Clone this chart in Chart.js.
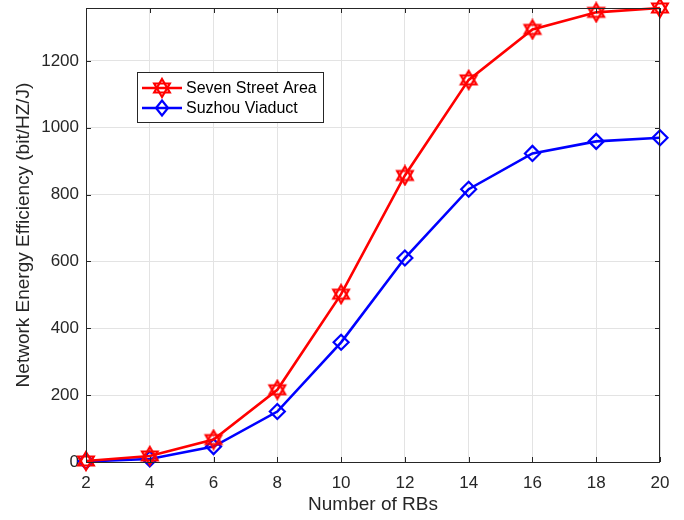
<!DOCTYPE html>
<html>
<head>
<meta charset="utf-8">
<script src="https://cdn.jsdelivr.net/npm/chart.js@4/dist/chart.umd.min.js"></script>
<style>
  html, body { margin: 0; padding: 0; background: #fff; }
  canvas { display: block; }
</style>
</head>
<body>
<canvas id="grafico" width="684" height="520"></canvas>
<script>
// datos
const rbs = [2, 4, 6, 8, 10, 12, 14, 16, 18, 20];
const sevenStreet = [3, 18, 67, 216, 502, 857, 1143, 1294, 1345, 1358];
const suzhouViaduct = [2, 9, 46, 151, 358, 610, 816, 923, 959, 970];
const yTicks = [0, 200, 400, 600, 800, 1000, 1200];

const FONT = "'Liberation Sans', Arial, Helvetica, sans-serif";
const AXIS = '#262626';

// marcador hexagrama (dos triangulos sin relleno)
function hexagram(color) {
  const c = document.createElement('canvas');
  c.width = 22; c.height = 22;
  const g = c.getContext('2d');
  g.strokeStyle = color;
  g.lineWidth = 2.2;
  const r = 9, cx = 11, cy = 11;
  [ -Math.PI / 2, Math.PI / 2 ].forEach(a0 => {
    g.beginPath();
    for (let i = 0; i < 3; i++) {
      const a = a0 + i * 2 * Math.PI / 3;
      const x = cx + r * Math.cos(a), y = cy + r * Math.sin(a);
      i === 0 ? g.moveTo(x, y) : g.lineTo(x, y);
    }
    g.closePath();
    g.stroke();
  });
  return c;
}
const starRed = hexagram('#ff0000');

// caja, ticks hacia dentro y leyenda estilo MATLAB
const estiloMatlab = {
  id: 'estiloMatlab',
  afterDraw(chart) {
    const { ctx, chartArea: a, scales } = chart;
    ctx.save();
    ctx.strokeStyle = AXIS;
    ctx.lineWidth = 1;
    ctx.strokeRect(a.left + 0.5, a.top + 0.5, a.right - a.left - 1, a.bottom - a.top);
    ctx.beginPath();
    const tl = 5;
    scales.x.ticks.forEach(t => {
      const x = Math.round(scales.x.getPixelForValue(t.value)) + 0.5;
      ctx.moveTo(x, a.bottom); ctx.lineTo(x, a.bottom - tl);
      ctx.moveTo(x, a.top); ctx.lineTo(x, a.top + tl);
    });
    scales.y.ticks.forEach(t => {
      const y = Math.round(scales.y.getPixelForValue(t.value)) + 0.5;
      ctx.moveTo(a.left, y); ctx.lineTo(a.left + tl, y);
      ctx.moveTo(a.right, y); ctx.lineTo(a.right - tl, y);
    });
    ctx.stroke();

    // leyenda
    const bx = 137, by = 72, bw = 186, bh = 50;
    ctx.fillStyle = '#fff';
    ctx.fillRect(bx, by, bw, bh);
    ctx.strokeStyle = AXIS;
    ctx.strokeRect(bx + 0.5, by + 0.5, bw, bh);
    const rows = [88, 108];
    chart.data.datasets.forEach((ds, i) => {
      const y = rows[i];
      ctx.strokeStyle = ds.borderColor;
      ctx.lineWidth = 2.5;
      ctx.beginPath();
      ctx.moveTo(142, y); ctx.lineTo(182, y);
      ctx.stroke();
      if (i === 0) {
        ctx.drawImage(starRed, 162 - 11, y - 11);
      } else {
        ctx.lineWidth = 2.2;
        ctx.beginPath();
        ctx.moveTo(162, y - 7.5); ctx.lineTo(168, y); ctx.lineTo(162, y + 7.5); ctx.lineTo(156, y);
        ctx.closePath();
        ctx.stroke();
      }
      ctx.fillStyle = '#000';
      ctx.font = '16px ' + FONT;
      ctx.textBaseline = 'middle';
      ctx.fillText(ds.label, 186, y + 1);
    });
    ctx.restore();
  }
};

const ctx = document.getElementById('grafico').getContext('2d');
new Chart(ctx, {
  type: 'line',
  data: {
    datasets: [
      {
        label: 'Seven Street Area',
        data: rbs.map((x, i) => ({ x, y: sevenStreet[i] })),
        borderColor: '#ff0000',
        borderWidth: 2.6,
        pointStyle: starRed,
        pointRadius: 10,
        clip: false,
        tension: 0
      },
      {
        label: 'Suzhou Viaduct',
        data: rbs.map((x, i) => ({ x, y: suzhouViaduct[i] })),
        borderColor: '#0000ff',
        backgroundColor: 'rgba(0,0,0,0)',
        borderWidth: 2.6,
        pointStyle: 'rectRot',
        pointRadius: 7.5,
        pointBorderWidth: 2.2,
        clip: false,
        tension: 0
      }
    ]
  },
  options: {
    responsive: false,
    animation: false,
    layout: { autoPadding: false, padding: { top: 8, right: 24, left: 0, bottom: 0 } },
    plugins: { legend: { display: false }, tooltip: { enabled: false } },
    scales: {
      x: {
        type: 'linear',
        min: 2, max: 20,
        afterFit: s => { s.height = 58; s.paddingLeft = 0; s.paddingRight = 0; },
        afterBuildTicks: s => { s.ticks = rbs.map(v => ({ value: v })); },
        grid: { color: '#e3e3e3', drawTicks: false },
        border: { display: false },
        ticks: { color: AXIS, padding: 11, font: { family: FONT, size: 17 }, maxRotation: 0, callback: v => String(v) },
        title: { display: true, text: 'Number of RBs', color: AXIS, padding: { top: 8 }, font: { family: FONT, size: 19 } }
      },
      y: {
        min: 0, max: 1358,
        afterFit: s => { s.width = 86; s.paddingTop = 0; s.paddingBottom = 0; },
        afterBuildTicks: s => { s.ticks = yTicks.map(v => ({ value: v })); },
        grid: { color: '#e3e3e3', drawTicks: false },
        border: { display: false },
        ticks: { color: AXIS, padding: 7, font: { family: FONT, size: 17 }, callback: v => String(v) },
        title: { display: true, text: 'Network Energy Efficiency (bit/HZ/J)', color: AXIS, padding: { top: 12, bottom: 0 }, font: { family: FONT, size: 19 } }
      }
    }
  },
  plugins: [estiloMatlab]
});
</script>
</body>
</html>
